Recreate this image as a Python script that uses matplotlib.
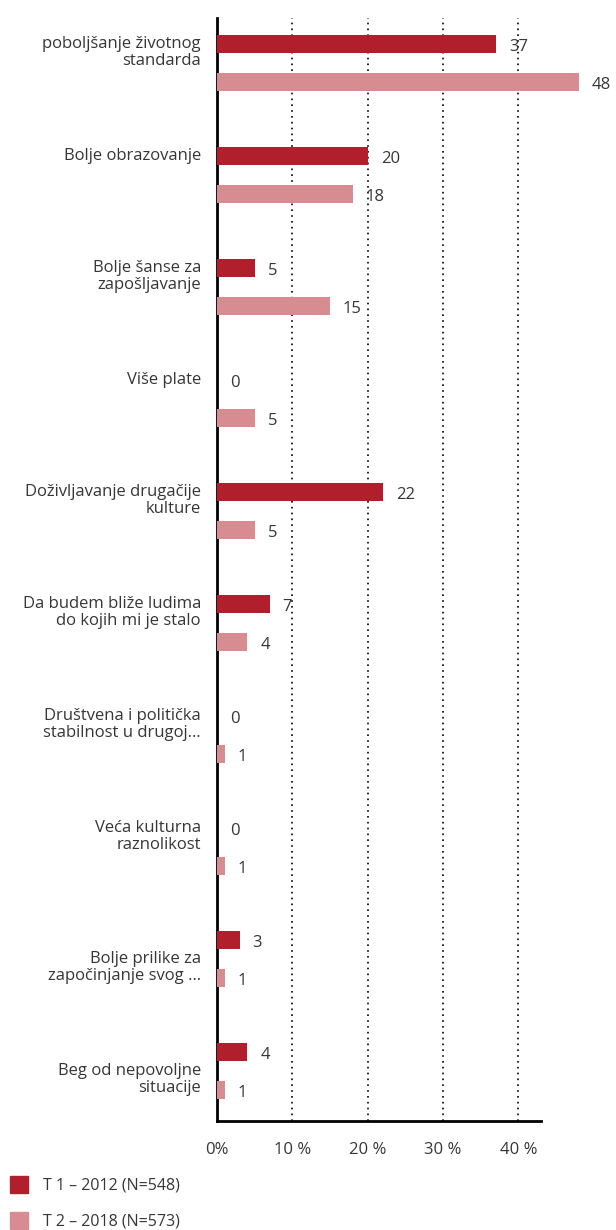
import matplotlib
matplotlib.use("Agg")
import matplotlib.pyplot as plt
from matplotlib.patches import Patch

plt.rcParams['font.family'] = ['Open Sans', 'DejaVu Sans']

categories = [
    "poboljšanje životnog\nstandarda",
    "Bolje obrazovanje",
    "Bolje šanse za\nzapošljavanje",
    "Više plate",
    "Doživljavanje drugačije\nkulture",
    "Da budem bliže ludima\ndo kojih mi je stalo",
    "Društvena i politička\nstabilnost u drugoj…",
    "Veća kulturna\nraznolikost",
    "Bolje prilike za\nzapočinjanje svog …",
    "Beg od nepovoljne\nsituacije",
]
t1_2012 = [37, 20, 5, 0, 22, 7, 0, 0, 3, 4]
t2_2018 = [48, 18, 15, 5, 5, 4, 1, 1, 1, 1]
series_labels = ["T 1 – 2012 (N=548)", "T 2 – 2018 (N=573)"]
xticks = [0, 10, 20, 30, 40]
xtick_labels = ["0%", "10 %", "20 %", "30 %", "40 %"]

c_dark = '#B01F2B'
c_light = '#D78C91'
txt = '#363636'
fs = 12

fig = plt.figure(figsize=(6.16, 12.30), dpi=100)
ax = fig.add_axes([217 / 616, 1 - 1121 / 1230, 324 / 616, 1103 / 1230])

off = 0.17
h = 0.165
ypos = list(range(len(categories)))
y1 = [y - off for y in ypos]
y2 = [y + off for y in ypos]
ax.barh(y1, t1_2012, height=h, color=c_dark, clip_on=False, zorder=3)
ax.barh(y2, t2_2018, height=h, color=c_light, clip_on=False, zorder=3)

for y, v in zip(y1, t1_2012):
    ax.annotate(str(v), (v, y), xytext=(13, -3), textcoords='offset pixels',
                ha='left', va='center', fontsize=fs, color=txt, annotation_clip=False)
for y, v in zip(y2, t2_2018):
    ax.annotate(str(v), (v, y), xytext=(13, -3), textcoords='offset pixels',
                ha='left', va='center', fontsize=fs, color=txt, annotation_clip=False)

# category names sit with their first line level with the 2012 bar
nudge = [0, 0, 0, 0, 0, 0, 0, 0, -19, -19]
for y, name, dy in zip(y1, categories, nudge):
    ax.annotate(name, (0, y), xytext=(-16, 8 + dy), textcoords='offset pixels',
                ha='right', va='top', fontsize=fs, color=txt,
                linespacing=1.05, annotation_clip=False)

ax.set_xlim(0, 43)
ax.set_ylim(len(categories) - 1 + 0.446, -0.402)
ax.set_yticks([])
ax.set_xticks(xticks)
ax.set_xticklabels(xtick_labels, fontsize=fs, color=txt)
ax.tick_params(axis='x', length=0, pad=15)

for x in xticks[1:]:
    ax.axvline(x, color='black', linestyle=(0, (1, 2.5)), linewidth=1.2, zorder=2)

for s in ['top', 'right']:
    ax.spines[s].set_visible(False)
ax.spines['left'].set_linewidth(2)
ax.spines['bottom'].set_linewidth(2)

handles = [Patch(color=c_dark), Patch(color=c_light)]
fig.legend(handles, series_labels, loc='upper left',
           bbox_to_anchor=(10 / 616, 1 - 1176 / 1230), frameon=False,
           handlelength=1.1, handleheight=1.25, handletextpad=0.95,
           labelspacing=1.15, borderpad=0, borderaxespad=0,
           prop={'size': 11.5}, labelcolor=txt)

fig.savefig('out.png', dpi=100)
